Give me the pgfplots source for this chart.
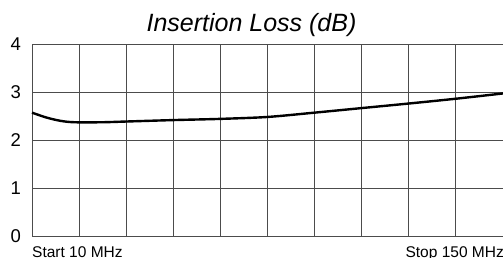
\documentclass[border=0pt]{standalone}
\usepackage{fontspec}
\setmainfont{Liberation Sans}
\usepackage{pgfplots}
\pgfplotsset{compat=1.18}
\begin{document}
\begin{tikzpicture}
\begin{axis}[
  at={(0,0)}, anchor=south west,
  scale only axis,
  width=471bp, height=192bp,
  xmin=0, xmax=10, ymin=0, ymax=4,
  xtick={0,1,...,10}, xticklabels={},
  ytick={0,1,2,3,4},
  yticklabels={0,1,2,3,4},
  major tick length=0pt,
  grid=major,
  major grid style={draw=black!70, line width=0.9bp},
  axis line style={draw=black!70, line width=0.9bp},
  every y tick label/.style={font=\fontsize{18.5bp}{20bp}\selectfont, anchor=east, inner sep=0pt, xshift=-11bp},
  clip=false,
]
\addplot[black, line width=2.4bp, smooth] coordinates {
  (0,2.57) (0.3,2.47) (0.6,2.40) (0.9,2.37) (1.5,2.37) (2,2.385) (3,2.415) (4,2.44)
  (5,2.48) (6,2.57) (7,2.665) (8,2.76) (9,2.86) (10,2.97)
};
\end{axis}
\node[anchor=base, inner sep=0pt, font=\fontsize{25bp}{28bp}\selectfont\itshape] at (219.5bp,204bp) {Insertion Loss (dB)};
\node[anchor=base west, inner sep=0pt, font=\fontsize{15.5bp}{17bp}\selectfont] at (0bp,-21bp) {Start 10 MHz};
\node[anchor=base east, inner sep=0pt, font=\fontsize{15.5bp}{17bp}\selectfont] at (472bp,-21bp) {Stop 150 MHz};
\pgfresetboundingbox
\path[use as bounding box] (-32bp,-22bp) rectangle (471bp,236bp);
\end{tikzpicture}
\end{document}
